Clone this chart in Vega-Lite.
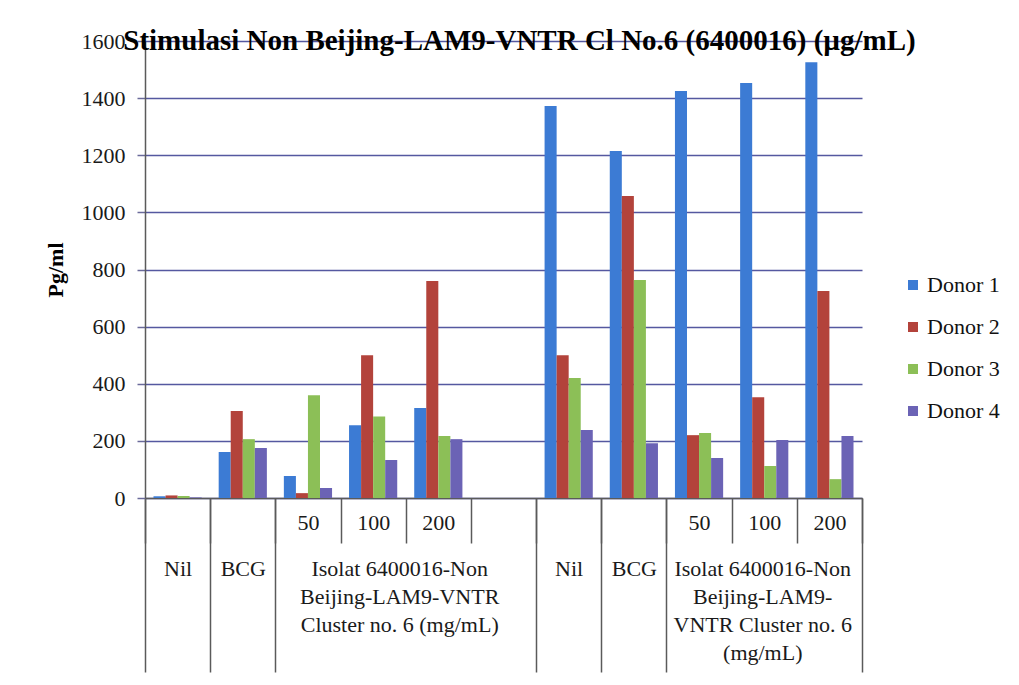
{
  "$schema": "https://vega.github.io/schema/vega-lite/v6.json",
  "width": 717,
  "height": 457,
  "autosize": {"type": "none"},
  "padding": {"left": 145, "top": 41, "right": 157, "bottom": 187},
  "background": "white",
  "config": {"view": {"stroke": null}, "font": "Liberation Serif, Times New Roman, serif"},
  "title": {
    "text": "Stimulasi Non Beijing-LAM9-VNTR Cl No.6 (6400016) (µg/mL)",
    "font": "Liberation Serif, Times New Roman, serif",
    "fontSize": 29,
    "fontWeight": "bold",
    "color": "#000000",
    "anchor": "middle",
    "frame": "group",
    "dx": 16,
    "offset": -26
  },
  "data": {
    "values": [
      {"slot": "Nil-1", "donor": "Donor 1", "value": 6},
      {"slot": "Nil-1", "donor": "Donor 2", "value": 9},
      {"slot": "Nil-1", "donor": "Donor 3", "value": 7},
      {"slot": "Nil-1", "donor": "Donor 4", "value": 2},
      {"slot": "BCG-1", "donor": "Donor 1", "value": 161},
      {"slot": "BCG-1", "donor": "Donor 2", "value": 305},
      {"slot": "BCG-1", "donor": "Donor 3", "value": 206},
      {"slot": "BCG-1", "donor": "Donor 4", "value": 175},
      {"slot": "50-1", "donor": "Donor 1", "value": 77},
      {"slot": "50-1", "donor": "Donor 2", "value": 17},
      {"slot": "50-1", "donor": "Donor 3", "value": 360},
      {"slot": "50-1", "donor": "Donor 4", "value": 35},
      {"slot": "100-1", "donor": "Donor 1", "value": 255},
      {"slot": "100-1", "donor": "Donor 2", "value": 500},
      {"slot": "100-1", "donor": "Donor 3", "value": 285},
      {"slot": "100-1", "donor": "Donor 4", "value": 133},
      {"slot": "200-1", "donor": "Donor 1", "value": 315},
      {"slot": "200-1", "donor": "Donor 2", "value": 760},
      {"slot": "200-1", "donor": "Donor 3", "value": 217},
      {"slot": "200-1", "donor": "Donor 4", "value": 206},
      {"slot": "Nil-2", "donor": "Donor 1", "value": 1372},
      {"slot": "Nil-2", "donor": "Donor 2", "value": 500},
      {"slot": "Nil-2", "donor": "Donor 3", "value": 420},
      {"slot": "Nil-2", "donor": "Donor 4", "value": 238},
      {"slot": "BCG-2", "donor": "Donor 1", "value": 1215},
      {"slot": "BCG-2", "donor": "Donor 2", "value": 1057},
      {"slot": "BCG-2", "donor": "Donor 3", "value": 763},
      {"slot": "BCG-2", "donor": "Donor 4", "value": 192},
      {"slot": "50-2", "donor": "Donor 1", "value": 1425},
      {"slot": "50-2", "donor": "Donor 2", "value": 220},
      {"slot": "50-2", "donor": "Donor 3", "value": 228},
      {"slot": "50-2", "donor": "Donor 4", "value": 140},
      {"slot": "100-2", "donor": "Donor 1", "value": 1453},
      {"slot": "100-2", "donor": "Donor 2", "value": 353},
      {"slot": "100-2", "donor": "Donor 3", "value": 112},
      {"slot": "100-2", "donor": "Donor 4", "value": 203},
      {"slot": "200-2", "donor": "Donor 1", "value": 1526},
      {"slot": "200-2", "donor": "Donor 2", "value": 725},
      {"slot": "200-2", "donor": "Donor 3", "value": 66},
      {"slot": "200-2", "donor": "Donor 4", "value": 217}
    ]
  },
  "layer": [
    {
      "mark": {"type": "bar"},
      "encoding": {
        "x": {
          "field": "slot",
          "type": "nominal",
          "scale": {
            "domain": ["Nil-1", "BCG-1", "50-1", "100-1", "200-1", "gap", "Nil-2", "BCG-2", "50-2", "100-2", "200-2"],
            "paddingInner": 0,
            "paddingOuter": 0
          },
          "axis": {
            "orient": "bottom",
            "title": null,
            "grid": false,
            "tickBand": "extent",
            "tickSize": 45,
            "tickColor": "#5a5a5a",
            "tickWidth": 1.5,
            "domainColor": "#5a5a5a",
            "domainWidth": 1.5,
            "labelAngle": 0,
            "labelPadding": -31,
            "labelFont": "Liberation Serif, Times New Roman, serif",
            "labelFontSize": 22,
            "labelColor": "#1a1a1a",
            "labelOverlap": false,
            "labelLimit": 0,
            "labelExpr": "indexof(['50-1','100-1','200-1','50-2','100-2','200-2'], datum.value) >= 0 ? split(datum.value, '-')[0] : ''"
          }
        },
        "xOffset": {
          "field": "donor",
          "type": "nominal",
          "scale": {"paddingInner": 0, "paddingOuter": 0.705}
        },
        "y": {
          "field": "value",
          "type": "quantitative",
          "scale": {"domain": [0, 1600], "nice": false},
          "axis": {
            "title": "Pg/ml",
            "titleFont": "Liberation Serif, Times New Roman, serif",
            "titleFontSize": 22,
            "titleFontWeight": "bold",
            "titleColor": "#000000",
            "titlePadding": 14,
            "values": [0, 200, 400, 600, 800, 1000, 1200, 1400, 1600],
            "format": "d",
            "grid": true,
            "gridColor": "#5558a0",
            "gridWidth": 1.5,
            "tickSize": 8,
            "tickColor": "#6a6a9a",
            "tickWidth": 1.5,
            "domainColor": "#5a5a5a",
            "domainWidth": 1.5,
            "labelPadding": 12,
            "labelFont": "Liberation Serif, Times New Roman, serif",
            "labelFontSize": 22,
            "labelColor": "#1a1a1a"
          }
        },
        "color": {
          "field": "donor",
          "type": "nominal",
          "scale": {
            "domain": ["Donor 1", "Donor 2", "Donor 3", "Donor 4"],
            "range": ["#3c7bd4", "#b3433b", "#8cbf57", "#6b63b5"]
          },
          "legend": {
            "title": null,
            "orient": "none",
            "legendX": 757,
            "legendY": 233,
            "symbolType": "square",
            "symbolSize": 100,
            "symbolStrokeWidth": 0,
            "labelFont": "Liberation Serif, Times New Roman, serif",
            "labelFontSize": 22,
            "labelColor": "#111111",
            "labelOffset": 3,
            "rowPadding": 20
          }
        }
      }
    },
    {
      "mark": {"type": "tick", "opacity": 0},
      "encoding": {
        "x": {
          "field": "slot",
          "type": "nominal",
          "scale": {
            "domain": ["Nil-1", "BCG-1", "50-1", "100-1", "200-1", "gap", "Nil-2", "BCG-2", "50-2", "100-2", "200-2"],
            "paddingInner": 0,
            "paddingOuter": 0
          },
          "axis": {
            "orient": "bottom",
            "title": null,
            "grid": false,
            "domain": false,
            "tickBand": "extent",
            "tickSize": 174,
            "tickColor": "#5a5a5a",
            "tickWidth": 1.5,
            "tickOpacity": {
              "condition": {
                "test": "datum.extra || indexof(['Nil-1','BCG-1','gap','Nil-2','BCG-2','200-2'], datum.value) >= 0",
                "value": 1
              },
              "value": 0
            },
            "labelAngle": 0,
            "labelPadding": -114,
            "labelFont": "Liberation Serif, Times New Roman, serif",
            "labelFontSize": 22,
            "labelColor": "#1a1a1a",
            "labelOverlap": false,
            "labelLimit": 0,
            "labelExpr": "(datum.value == 'Nil-1' || datum.value == 'Nil-2') ? 'Nil' : ((datum.value == 'BCG-1' || datum.value == 'BCG-2') ? 'BCG' : '')"
          }
        }
      }
    },
    {
      "mark": {"type": "point", "opacity": 0},
      "encoding": {
        "x": {
          "datum": 0,
          "type": "quantitative",
          "scale": {"domain": [0, 11], "nice": false, "zero": false},
          "axis": {
            "orient": "bottom",
            "title": null,
            "grid": false,
            "domain": false,
            "ticks": false,
            "tickSize": 0,
            "values": [3.9, 9.47],
            "labelAngle": 0,
            "labelPadding": 60,
            "labelFlush": false,
            "labelOverlap": false,
            "labelLimit": 0,
            "labelFont": "Liberation Serif, Times New Roman, serif",
            "labelFontSize": 22,
            "labelLineHeight": 28,
            "labelColor": "#1a1a1a",
            "labelExpr": "datum.value < 5 ? ['Isolat 6400016-Non', 'Beijing-LAM9-VNTR', 'Cluster no. 6 (mg/mL)'] : ['Isolat 6400016-Non', 'Beijing-LAM9-', 'VNTR Cluster no. 6', '(mg/mL)']"
          }
        }
      }
    }
  ],
  "resolve": {"scale": {"x": "independent"}, "axis": {"x": "independent"}}
}
